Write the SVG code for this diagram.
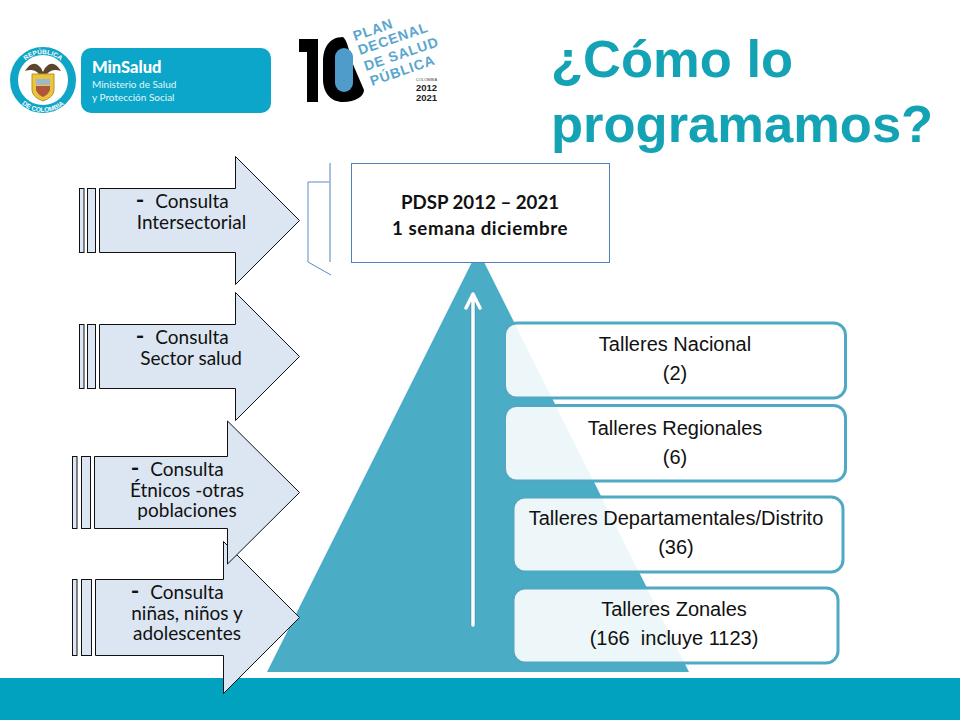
<svg xmlns="http://www.w3.org/2000/svg" width="960" height="720" viewBox="0 0 960 720">
<style>
.ar{fill:#DCE6F2;stroke:#111;stroke-width:1}
.at{font-family:Lato,"Liberation Sans",sans-serif;font-size:19px;fill:#111;text-anchor:middle}
.ds{font-size:23px;font-weight:bold}
.tb{fill:#fff;fill-opacity:.9;stroke:#4FA9C2;stroke-width:3}
.tt{font-family:"Liberation Sans",Arial,sans-serif;font-size:20px;fill:#111;text-anchor:middle}
.pb{font-family:Lato,sans-serif;font-size:18.700px;font-weight:bold;fill:#111;text-anchor:middle}
.pl{font-family:"Liberation Sans",Arial,sans-serif;font-size:14px;font-weight:bold;fill:#5BA6CE;letter-spacing:.8px}
.yr{font-family:"Liberation Sans",Arial,sans-serif;font-size:9.500px;font-weight:bold;fill:#222}
.ti{font-family:"Liberation Sans",Arial,sans-serif;font-size:52.500px;font-weight:bold;fill:#14A3B5}
.sub{font-family:Lato,sans-serif;font-size:10px;fill:#E4F6FA}
</style>
<defs>
<path id="ringTop" d="M17 80A26 26 0 0 1 69 80"/>
<path id="ringBot" d="M11 80A32 32 0 0 0 75 80"/>
</defs>
<rect width="960" height="720" fill="#fff"/>
<rect id="bottom-band" x="0" y="678" width="960" height="42" fill="#00A2BF"/>

<g id="logo-minsalud">
<circle cx="43" cy="80" r="29" fill="#fff" stroke="#0FA5C6" stroke-width="8"/>
<text font-family="Liberation Sans,sans-serif" font-size="6.500" font-weight="bold" fill="#fff" text-anchor="middle"><textPath href="#ringTop" startOffset="50%">REPÚBLICA</textPath></text>
<text font-family="Liberation Sans,sans-serif" font-size="6.500" font-weight="bold" fill="#fff" text-anchor="middle"><textPath href="#ringBot" startOffset="50%">DE COLOMBIA</textPath></text>
<path d="M25 71Q33 58 41 68L43 72L45 68Q53 58 61 71Q52 68 47 74H39Q34 68 25 71Z" fill="#5A4630"/>
<path d="M32 74H54V90Q54 97 43 101Q32 97 32 90Z" fill="#E8C440" stroke="#B8941E" stroke-width="1"/>
<rect x="36" y="79" width="14" height="6" fill="#9DB8C8"/>
<path d="M36 86H50V90Q48 95 43 97Q38 95 36 90Z" fill="#B0563A"/>
<rect x="81" y="48" width="190" height="65" rx="10" fill="#0BA6C9"/>
<text x="92" y="73" font-family="Lato,sans-serif" font-size="16.500" font-weight="900" fill="#fff">MinSalud</text>
<text class="sub"><tspan x="92" y="88">Ministerio de Salud</tspan><tspan x="92" y="101">y Protección Social</tspan></text>
</g>

<g id="logo-plan-decenal">
<path d="M299 39H318V102H307V52H299Z" fill="#000"/>
<path d="M343 37C329 37 323 48 323 62V79C323 93 331 102 343 102C356 102 364 96 364 90L352 62C349 50 347 40 343 37Z" fill="#000"/>
<rect x="335" y="48" width="18" height="44" rx="9" fill="#4F9BC9"/>
<text class="pl" transform="translate(355 41) rotate(-19)">PLAN</text>
<text class="pl" transform="translate(360 55) rotate(-19)">DECENAL</text>
<text class="pl" transform="translate(366 71) rotate(-19)">DE SALUD</text>
<text class="pl" transform="translate(372 86) rotate(-19)">PÚBLICA</text>
<text x="416" y="81" font-family="Liberation Sans,sans-serif" font-size="4" fill="#444">COLOMBIA</text>
<text class="yr"><tspan x="416" y="91">2012</tspan><tspan x="416" y="101">2021</tspan></text>
</g>

<text id="title" class="ti"><tspan x="551" y="77">¿Cómo lo</tspan><tspan x="551" y="142">programamos?</tspan></text>

<g id="pyramid">
<path d="M478 250L689 672H267Z" fill="#4BACC6"/>
</g>

<g id="connectors">
<path d="M473 625V295" fill="none" stroke="#3F7F95" stroke-opacity=".5" stroke-width="5"/>
<path d="M473 625V295M466 308L473 294L480 308" fill="none" stroke="#fff" stroke-width="3.500" stroke-linecap="round" stroke-linejoin="round"/>
<path d="M331 182H308V262L331 275" fill="none" stroke="#5C8BC2" stroke-width="1"/>
<path d="M330 163V262" fill="none" stroke="#A9C0DD" stroke-width="2"/>
</g>

<g id="node-pdsp">
<rect x="351.500" y="163.500" width="258" height="99" fill="#fff" stroke="#4F81BD" stroke-width="1"/>
<text class="pb"><tspan x="480" y="209">PDSP 2012 – 2021</tspan><tspan x="480" y="235" letter-spacing=".6">1 semana diciembre</tspan></text>
</g>

<g id="arrow-intersectorial">
<rect class="ar" x="79.500" y="188.500" width="4.500" height="64"/>
<rect class="ar" x="87.500" y="188.500" width="8" height="64"/>
<path class="ar" d="M99.500 188.500H235.500V156.500L299.500 220.500L235.500 284.500V252.500H99.500Z"/>
<text class="at"><tspan class="ds" x="140" y="208">-</tspan><tspan x="192" y="208">Consulta</tspan><tspan x="191.500" y="229">Intersectorial</tspan></text>
</g>

<g id="arrow-sector-salud">
<rect class="ar" x="79.500" y="324.500" width="4.500" height="64"/>
<rect class="ar" x="87.500" y="324.500" width="8" height="64"/>
<path class="ar" d="M99.500 324.500H235.500V292.500L299.500 356.500L235.500 420.500V388.500H99.500Z"/>
<text class="at"><tspan class="ds" x="140" y="344">-</tspan><tspan x="192" y="344">Consulta</tspan><tspan x="191" y="365">Sector salud</tspan></text>
</g>

<g id="arrow-ninos">
<rect class="ar" x="72.500" y="579.500" width="4.500" height="76" stroke="#555"/>
<rect class="ar" x="81.500" y="579.500" width="10" height="76"/>
<path class="ar" d="M95.500 579.500H223.500V541.500L299.500 617.500L223.500 693.500V655.500H95.500Z"/>
<text class="at"><tspan class="ds" x="135" y="599">-</tspan><tspan x="187" y="599">Consulta</tspan><tspan x="187" y="620">niñas, niños y</tspan><tspan x="187" y="640">adolescentes</tspan></text>
</g>

<g id="arrow-etnicos">
<rect class="ar" x="72.500" y="456.500" width="4.500" height="72"/>
<rect class="ar" x="81.500" y="456.500" width="9" height="72"/>
<path class="ar" d="M94.500 456.500H227.500V421L299.500 492.500L227.500 564V528.500H94.500Z"/>
<text class="at"><tspan class="ds" x="135" y="476">-</tspan><tspan x="187" y="476">Consulta</tspan><tspan x="187" y="497">Étnicos -otras</tspan><tspan x="187" y="517">poblaciones</tspan></text>
</g>

<g id="taller-nacional">
<rect class="tb" x="504.500" y="323" width="341" height="75" rx="12"/>
<text class="tt"><tspan x="675" y="351">Talleres Nacional</tspan><tspan x="675" y="380">(2)</tspan></text>
</g>
<g id="taller-regionales">
<rect class="tb" x="504.500" y="405.500" width="341" height="75.500" rx="12"/>
<text class="tt"><tspan x="675" y="435">Talleres Regionales</tspan><tspan x="675" y="464">(6)</tspan></text>
</g>
<g id="taller-departamentales">
<rect class="tb" x="513" y="497" width="330" height="75" rx="12"/>
<text class="tt"><tspan x="676" y="525">Talleres Departamentales/Distrito</tspan><tspan x="676" y="554">(36)</tspan></text>
</g>
<g id="taller-zonales">
<rect class="tb" x="513" y="588" width="325" height="75" rx="12"/>
<text class="tt"><tspan x="674" y="616">Talleres Zonales</tspan><tspan x="674" y="645" xml:space="preserve">(166  incluye 1123)</tspan></text>
</g>
</svg>
